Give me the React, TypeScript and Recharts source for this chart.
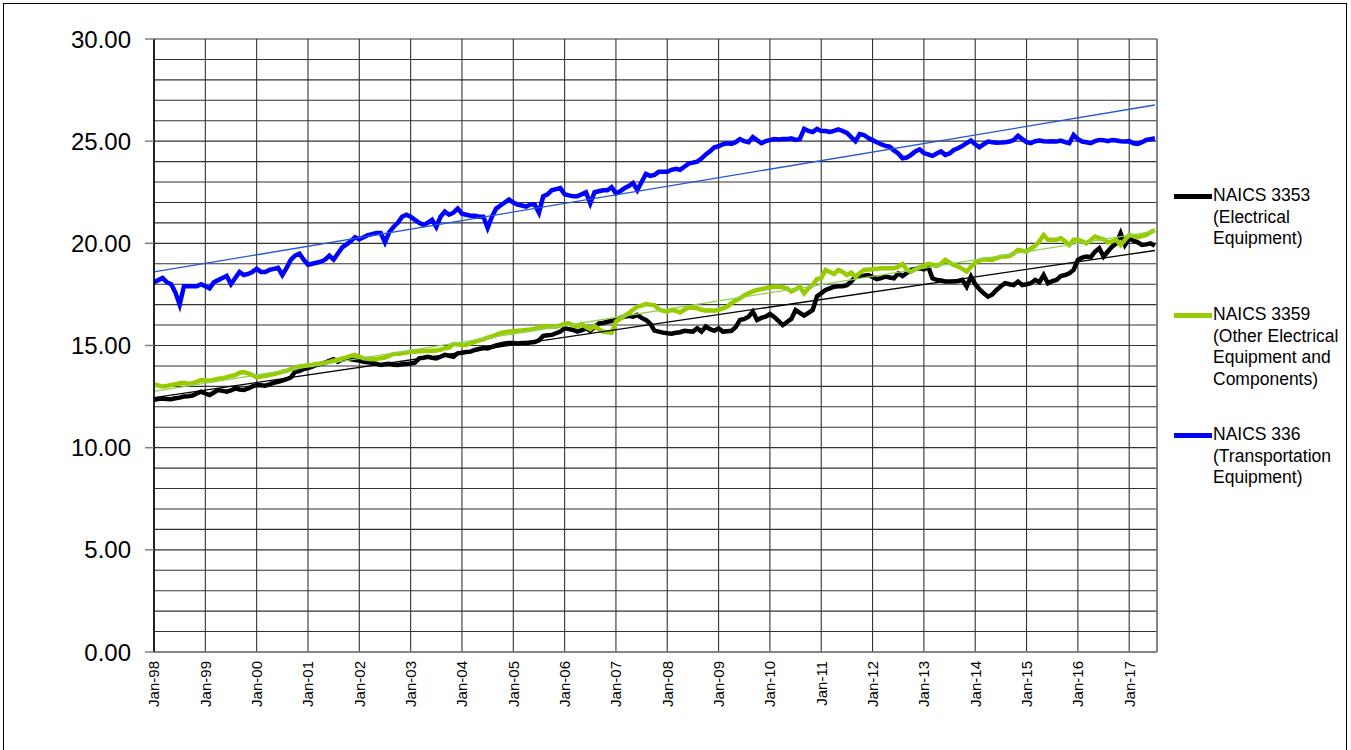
import React from 'react';
import { ComposedChart, Line, XAxis, YAxis, CartesianGrid, ReferenceLine } from 'recharts';

// tick labels on the x axis, one per January
const yearLabels = [
  'Jan-98', 'Jan-99', 'Jan-00', 'Jan-01', 'Jan-02', 'Jan-03', 'Jan-04', 'Jan-05', 'Jan-06', 'Jan-07',
  'Jan-08', 'Jan-09', 'Jan-10', 'Jan-11', 'Jan-12', 'Jan-13', 'Jan-14', 'Jan-15', 'Jan-16', 'Jan-17',
];

// monthly values, Jan-98 .. Jul-17 (one row per year)
const naics3353 = [
  12.35, 12.38, 12.4, 12.38, 12.37, 12.42, 12.45, 12.5, 12.52, 12.55, 12.65, 12.74,
  12.65, 12.58, 12.7, 12.82, 12.78, 12.74, 12.8, 12.9, 12.85, 12.82, 12.9, 13.0,
  13.06, 13.05, 13.03, 13.1, 13.18, 13.22, 13.28, 13.35, 13.44, 13.72, 13.75, 13.85,
  13.9, 13.97, 14.05, 14.1, 14.16, 14.25, 14.33, 14.21, 14.3, 14.37, 14.32, 14.29,
  14.26, 14.2, 14.18, 14.16, 14.1, 14.05, 14.08, 14.1, 14.06, 14.05, 14.08, 14.1,
  14.12, 14.16, 14.37, 14.4, 14.45, 14.4, 14.37, 14.45, 14.54, 14.5, 14.45, 14.62,
  14.65, 14.68, 14.7, 14.78, 14.83, 14.88, 14.86, 14.93, 15.0, 15.05, 15.1, 15.12,
  15.12, 15.1, 15.12, 15.12, 15.15, 15.17, 15.25, 15.47, 15.5, 15.52, 15.6, 15.68,
  15.84, 15.8, 15.76, 15.68, 15.75, 15.84, 15.72, 15.9, 16.08, 16.1, 16.16, 16.2,
  16.25, 16.35, 16.41, 16.45, 16.41, 16.5, 16.35, 16.25, 16.08, 15.73, 15.68, 15.63,
  15.6, 15.58, 15.62, 15.65, 15.72, 15.7, 15.68, 15.84, 15.68, 15.93, 15.8, 15.72,
  15.84, 15.68, 15.7, 15.72, 15.9, 16.25, 16.3, 16.41, 16.66, 16.25, 16.35, 16.41,
  16.54, 16.4, 16.2, 16.0, 16.15, 16.3, 16.74, 16.6, 16.46, 16.6, 16.74, 17.4,
  17.56, 17.72, 17.8, 17.88, 17.9, 17.9, 17.95, 18.13, 18.37, 18.4, 18.42, 18.45,
  18.35, 18.25, 18.3, 18.37, 18.33, 18.29, 18.53, 18.4, 18.55, 18.7, 18.75, 18.78,
  18.73, 18.86, 18.29, 18.21, 18.18, 18.13, 18.13, 18.13, 18.15, 18.21, 17.88, 18.37,
  18.0, 17.75, 17.55, 17.39, 17.5, 17.72, 17.9, 18.05, 18.0, 17.96, 18.13, 17.96,
  18.0, 18.05, 18.21, 18.1, 18.45, 18.05, 18.15, 18.21, 18.4, 18.45, 18.53, 18.7,
  19.19, 19.3, 19.35, 19.32, 19.59, 19.76, 19.35, 19.6, 19.84, 20.0, 20.49, 19.92,
  20.25, 20.13, 20.05, 19.92, 19.95, 20.0, 19.88,
];

const naics3359 = [
  13.1, 13.05, 12.99, 13.02, 13.07, 13.1, 13.15, 13.18, 13.12, 13.15, 13.22, 13.31,
  13.3, 13.28, 13.32, 13.38, 13.4, 13.45, 13.51, 13.55, 13.67, 13.7, 13.64, 13.55,
  13.44, 13.48, 13.51, 13.55, 13.6, 13.65, 13.72, 13.76, 13.84, 13.9, 13.97, 14.0,
  14.03, 14.05, 14.1, 14.12, 14.16, 14.2, 14.26, 14.3, 14.37, 14.42, 14.49, 14.54,
  14.45, 14.37, 14.35, 14.33, 14.33, 14.38, 14.41, 14.5, 14.59, 14.6, 14.62, 14.65,
  14.7, 14.7, 14.72, 14.73, 14.73, 14.74, 14.75, 14.8, 14.86, 14.9, 15.07, 15.05,
  15.02, 15.04, 15.1, 15.18, 15.25, 15.3, 15.39, 15.44, 15.52, 15.6, 15.65, 15.68,
  15.7, 15.72, 15.74, 15.76, 15.78, 15.82, 15.89, 15.92, 15.95, 15.93, 15.92, 15.98,
  16.05, 16.08, 15.98, 15.92, 16.05, 15.9, 15.8, 15.95, 15.8, 15.68, 15.65, 15.63,
  16.17, 16.3, 16.45, 16.58, 16.75, 16.9, 16.95, 17.03, 17.0, 16.98, 16.77, 16.7,
  16.66, 16.74, 16.7, 16.62, 16.75, 16.86, 16.85, 16.82, 16.75, 16.7, 16.72, 16.7,
  16.75, 16.82, 16.9, 17.07, 17.2, 17.31, 17.45, 17.56, 17.65, 17.72, 17.76, 17.8,
  17.85, 17.88, 17.88, 17.85, 17.8, 17.64, 17.75, 17.88, 17.56, 17.8, 17.96, 18.25,
  18.3, 18.7, 18.6, 18.5, 18.7, 18.6, 18.45, 18.57, 18.37, 18.55, 18.7, 18.72,
  18.73, 18.76, 18.78, 18.78, 18.78, 18.78, 18.86, 18.99, 18.7, 18.62, 18.73, 18.82,
  18.9, 19.0, 18.95, 18.9, 19.0, 19.19, 19.05, 18.94, 18.86, 18.75, 18.62, 18.85,
  19.06, 19.15, 19.22, 19.2, 19.19, 19.28, 19.35, 19.36, 19.38, 19.5, 19.68, 19.64,
  19.59, 19.75, 19.87, 20.1, 20.41, 20.17, 20.17, 20.17, 20.25, 20.1, 19.92, 20.17,
  20.17, 20.1, 20.0, 20.15, 20.33, 20.25, 20.2, 20.04, 20.1, 20.17, 19.92, 20.17,
  20.41, 20.35, 20.3, 20.36, 20.41, 20.55, 20.65,
];

const naics336 = [
  18.1, 18.2, 18.3, 18.1, 18.0, 17.6, 17.0, 17.9, 17.9, 17.9, 17.9, 18.0,
  17.9, 17.8, 18.1, 18.2, 18.3, 18.4, 18.0, 18.3, 18.6, 18.45, 18.5, 18.6,
  18.75, 18.6, 18.6, 18.7, 18.75, 18.8, 18.45, 18.8, 19.2, 19.4, 19.5, 19.2,
  18.95, 19.0, 19.05, 19.1, 19.2, 19.4, 19.2, 19.5, 19.8, 19.95, 20.1, 20.3,
  20.2, 20.3, 20.4, 20.45, 20.5, 20.5, 20.05, 20.55, 20.8, 21.0, 21.3, 21.4,
  21.3, 21.15, 21.0, 20.9, 21.0, 21.15, 20.8, 21.3, 21.55, 21.4, 21.5, 21.7,
  21.45, 21.4, 21.35, 21.35, 21.3, 21.3, 20.75, 21.3, 21.7, 21.85, 22.0, 22.15,
  22.0, 21.9, 21.85, 21.8, 21.9, 21.9, 21.5, 22.3, 22.4, 22.6, 22.65, 22.7,
  22.4, 22.35, 22.3, 22.3, 22.4, 22.5, 21.95, 22.5, 22.55, 22.6, 22.6, 22.75,
  22.45, 22.55, 22.7, 22.8, 22.95, 22.6, 23.0, 23.4, 23.3, 23.35, 23.5, 23.5,
  23.5, 23.6, 23.65, 23.6, 23.75, 23.9, 23.95, 24.0, 24.15, 24.35, 24.5, 24.7,
  24.75, 24.85, 24.9, 24.87, 24.95, 25.1, 25.0, 24.95, 25.2, 25.05, 24.9, 25.0,
  25.05, 25.1, 25.08, 25.1, 25.1, 25.14, 25.06, 25.1, 25.6, 25.5, 25.45, 25.6,
  25.5, 25.5, 25.45, 25.5, 25.58, 25.5, 25.4, 25.2, 25.0, 25.35, 25.3, 25.15,
  25.05, 24.95, 24.85, 24.77, 24.73, 24.55, 24.4, 24.16, 24.2, 24.33, 24.5, 24.6,
  24.42, 24.35, 24.28, 24.4, 24.5, 24.33, 24.4, 24.57, 24.65, 24.77, 24.9, 25.03,
  24.85, 24.7, 24.85, 24.98, 24.95, 24.92, 24.93, 24.95, 24.98, 25.05, 25.26, 25.1,
  24.95, 24.9, 25.0, 25.03, 25.0, 24.98, 25.0, 24.98, 25.03, 24.95, 24.9, 25.3,
  25.1, 24.98, 24.95, 24.9, 25.0, 25.06, 25.05, 25.0, 25.06, 25.03, 25.0, 24.98,
  25.0, 24.9, 24.87, 24.95, 25.06, 25.1, 25.14,
];

// linear trend lines: value at first month, value at last month
const trend3353 = [12.45, 19.65];
const trend3359 = [12.75, 20.6];
const trend336 = [18.6, 26.77];

const lastIdx = naics3353.length - 1;
const endpoint = (i: number, t: number[]) => (i === 0 ? t[0] : i === lastIdx ? t[1] : null);

const data = naics3353.map((v, i) => ({
  m: i,
  n3353: v,
  n3359: naics3359[i],
  n336: naics336[i],
  t3353: endpoint(i, trend3353),
  t3359: endpoint(i, trend3359),
  t336: endpoint(i, trend336),
}));

const xTicks = yearLabels.map((_, i) => i * 12);
const yTicks = Array.from({ length: 31 }, (_, i) => i);

const FONT = '"Liberation Sans", Arial, sans-serif';

const YTick = (props: any) => {
  const { x, y, payload } = props;
  if (payload.value % 5 !== 0) return <g />;
  return (
    <g>
      <line x1={x - 9} x2={x} y1={y} y2={y} stroke="#808080" strokeWidth={1.5} />
      <text x={x - 23} y={y} dy="0.36em" textAnchor="end" fontFamily={FONT} fontSize={24} fill="#000">
        {payload.value.toFixed(2)}
      </text>
    </g>
  );
};

const XTick = (props: any) => {
  const { x, y, payload } = props;
  const label = yearLabels[Math.round(payload.value / 12)];
  return (
    <text transform={`translate(${x},${y + 9}) rotate(-90)`} dy="0.36em" textAnchor="end" fontFamily={FONT} fontSize={15} fill="#000">
      {label}
    </text>
  );
};

const legendItems = [
  { color: '#000000', lines: ['NAICS 3353', '(Electrical', 'Equipment)'], top: 185 },
  { color: '#99CC00', lines: ['NAICS 3359', '(Other Electrical', 'Equipment and', 'Components)'], top: 304 },
  { color: '#0000FF', lines: ['NAICS 336', '(Transportation', 'Equipment)'], top: 424 },
];

export default function App() {
  return (
    <div style={{ position: 'absolute', left: 0, top: 0, width: 1351, height: 750, background: '#fff', overflow: 'hidden' }}>
      <div style={{ position: 'absolute', left: 3, top: 3, width: 1344, height: 760, border: '1px solid #000', boxSizing: 'border-box' }} />
      <div style={{ position: 'absolute', left: 0, top: 0 }}>
        <ComposedChart width={1351} height={750} data={data} margin={{ top: 39, right: 194, left: 54, bottom: 38 }}>
          <CartesianGrid stroke="#333333" strokeWidth={1.1} />
          <XAxis
            type="number"
            dataKey="m"
            domain={[0, 234.5]}
            ticks={xTicks}
            interval={0}
            tick={XTick}
            tickLine={false}
            tickSize={0}
            tickMargin={0}
            axisLine={{ stroke: '#808080', strokeWidth: 1.5 }}
            height={60}
            allowDataOverflow
          />
          <YAxis
            type="number"
            domain={[0, 30]}
            ticks={yTicks}
            interval={0}
            tick={YTick}
            tickLine={false}
            tickSize={0}
            tickMargin={0}
            axisLine={{ stroke: '#000', strokeWidth: 1.5 }}
            width={100}
          />
          <ReferenceLine x={234.5} stroke="#808080" strokeWidth={1.5} />
          <Line dataKey="n3353" stroke="#000000" strokeWidth={4.5} dot={false} isAnimationActive={false} />
          <Line dataKey="n3359" stroke="#99CC00" strokeWidth={4.5} dot={false} isAnimationActive={false} />
          <Line dataKey="n336" stroke="#0000FF" strokeWidth={4.5} dot={false} isAnimationActive={false} />
          <Line dataKey="t3353" stroke="#000000" strokeWidth={1.3} dot={false} connectNulls isAnimationActive={false} />
          <Line dataKey="t3359" stroke="#8fd14f" strokeWidth={1.3} dot={false} connectNulls isAnimationActive={false} />
          <Line dataKey="t336" stroke="#2457d6" strokeWidth={1.3} dot={false} connectNulls isAnimationActive={false} />
        </ComposedChart>
      </div>
      {legendItems.map((item) => (
        <div key={item.lines[0]} style={{ position: 'absolute', left: 1174, top: item.top, fontFamily: FONT, fontSize: 17.5, lineHeight: '21.5px', color: '#000' }}>
          <div style={{ position: 'absolute', left: 0, top: 8.5, width: 38, height: 5, background: item.color }} />
          <div style={{ marginLeft: 39, whiteSpace: 'nowrap' }}>
            {item.lines.map((l) => (
              <div key={l}>{l}</div>
            ))}
          </div>
        </div>
      ))}
    </div>
  );
}
